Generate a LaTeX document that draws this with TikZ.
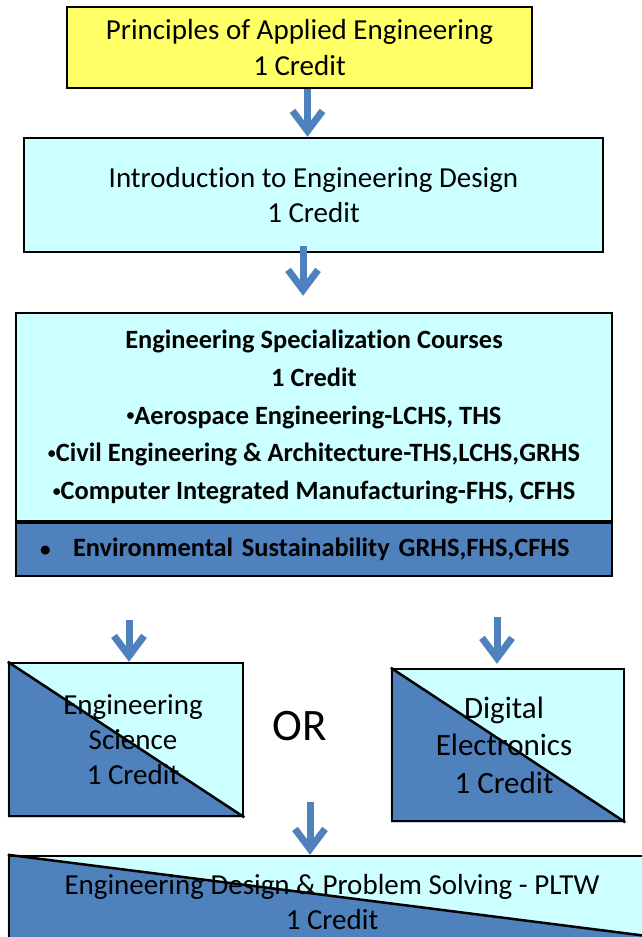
\documentclass[tikz,border=0pt]{standalone}
\usepackage{fontspec}
\setmainfont{Carlito}[Ligatures=NoCommon]
\usepackage{tikz}
\usetikzlibrary{arrows.meta,positioning}
\definecolor{PathYellow}{HTML}{FFFF66}
\definecolor{PathCyan}{HTML}{CCFFFF}
\definecolor{PathBlue}{HTML}{4F81BD}
\newcommand{\smallbullet}{\raisebox{0.12em}{\scalebox{0.6}{\textbullet}}}
\tikzstyle{course} = [draw=black, line width=2.5pt, align=center, inner sep=0pt, font=\fontsize{29}{35.5}\selectfont]
\tikzstyle{splitbox} = [course, minimum width=234pt, minimum height=153pt]
\tikzstyle{flow} = [PathBlue, line width=7pt, -{Straight Barb[length=20pt,width=30pt]}]
\tikzstyle{diagline} = [black, line width=2.5pt]
\pgfdeclarelayer{background}
\pgfsetlayers{background,main}

\begin{document}
\begin{tikzpicture}[x=1pt,y=-1pt]
			\useasboundingbox (0,0) rectangle (642,937);
			
			\node[course,fill=PathYellow,minimum width=465pt,minimum height=81pt] (pae) at (299.5,47.5) {Principles of Applied Engineering\\1 Credit};
			\node[course,fill=PathCyan,minimum width=579pt,minimum height=114pt] (ied) at (313.5,195) {Introduction to Engineering Design\\1 Credit};
			\node[course,fill=PathCyan,minimum width=596pt,minimum height=208pt,font=\bfseries\fontsize{26.4}{37.75}\selectfont] (esc) at (314,417) {Engineering Specialization Courses\\1 Credit\\\smallbullet Aerospace Engineering-LCHS, THS\\\smallbullet Civil Engineering \& Architecture-THS,LCHS,GRHS\\\smallbullet Computer Integrated Manufacturing-FHS, CFHS};
			\node[course,fill=PathBlue,minimum width=596pt,minimum height=53pt,text width=548pt,align=left,font=\bfseries\fontsize{26.4}{30}\selectfont] (env) at (314,549.5) {\makebox[33pt][l]{\scalebox{0.8}{\textbullet}}Environmental Sustainability GRHS,FHS,CFHS};
			
			\node[splitbox,label={[align=center,font=\fontsize{29}{35}\selectfont,xshift=7pt]center:{Engineering\\Science\\1 Credit}}] (es) at (126,739.5) {};
			\node[splitbox,minimum width=232pt,minimum height=152pt,label={[align=center,font=\fontsize{31}{37.5}\selectfont,xshift=-4pt]center:{Digital\\Electronics\\1 Credit}}] (de) at (508,745) {};
			\node[font=\fontsize{45}{54}\selectfont] (or) at (300,726) {OR};
			\node[course,minimum width=646pt,minimum height=92pt] (dps) at (332,902) {Engineering Design \& Problem Solving - PLTW\\1 Credit};
			\coordinate (dpsend) at (655,937);
			
			\begin{pgfonlayer}{background}
			\fill[PathCyan] (es.north west) rectangle (es.south east);
			\fill[PathBlue] (es.north west) -- (es.south west) -- (es.south east) -- cycle;
			\fill[PathCyan] (de.north west) rectangle (de.south east);
			\fill[PathBlue] (de.north west) -- (de.south west) -- (de.south east) -- cycle;
			\fill[PathCyan] (dps.north west) rectangle (dps.south east);
			\fill[PathBlue] (dps.north west) -- (dpsend) -- (dps.south east) -- (dps.south west) -- cycle;
			\end{pgfonlayer}
			
			\draw[diagline] (es.north west) -- (es.south east);
			\draw[diagline] (de.north west) -- (de.south east);
			\draw[diagline] (dps.north west) -- (dpsend);
			
			\coordinate (es-in) at (129,620);
			\coordinate (de-in) at (497,617);
			\coordinate (dps-in) at (310,802);
			\draw[flow] ([xshift=8pt]pae.south) -- ([xshift=-6pt]ied.north);
			\draw[flow] ([xshift=-10.5pt,yshift=7pt]ied.south) -- ([xshift=-11pt,yshift=16pt]esc.north);
			\draw[flow] (es-in) -- (es-in |- es.north);
			\draw[flow] (de-in) -- ([yshift=4pt]de-in |- de.north);
			\draw[flow] (dps-in) -- (dps-in |- dps.north);
			
\end{tikzpicture}
\end{document}
